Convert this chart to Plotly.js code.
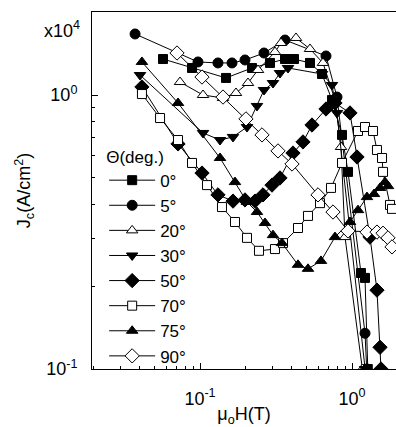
<!DOCTYPE html>
<html>
<head>
<meta charset="utf-8">
<script src="https://cdn.plot.ly/plotly-3.0.1.min.js"></script>
<style>
  html, body { margin: 0; padding: 0; background: #fff; }
  #chart { width: 396px; height: 427px; }
</style>
</head>
<body>
<div id="chart"></div>
<script>
// Field mu0H (T) and Jc (x10^4 A/cm^2) for each angle Theta
const H_0 = [0.0571, 0.0886, 0.1483, 0.2198, 0.2887, 0.3624, 0.4153, 0.5292, 0.6347, 0.7386, 0.8596, 0.9412, 1.146, 1.218, 1.27];
const J_0 = [1.353, 1.255, 1.154, 1.255, 1.309, 1.353, 1.353, 1.309, 1.193, 0.959, 0.715, 0.524, 0.224, 0.215, 0.100];

const H_5 = [0.0374, 0.0970, 0.1313, 0.1624, 0.1977, 0.2637, 0.3624, 0.6744, 0.7967, 1.218, 1.25];
const J_5 = [1.670, 1.320, 1.309, 1.309, 1.342, 1.423, 1.587, 1.388, 0.983, 0.135, 0.100];

const H_20 = [0.0739, 0.1047, 0.1417, 0.1725, 0.2069, 0.2408, 0.3114, 0.3411, 0.4281, 0.5292, 0.6444, 0.7729, 0.8466, 0.8994, 1.17];
const J_20 = [1.115, 1.000, 0.975, 1.017, 1.106, 1.234, 1.435, 1.548, 1.615, 1.472, 1.309, 0.959, 0.646, 0.303, 0.100];

const H_30 = [0.0403, 0.1047, 0.1354, 0.1649, 0.2038, 0.2371, 0.2637, 0.3022, 0.3360, 0.3793, 0.6347, 0.7386, 0.7967, 1.22];
const J_30 = [1.183, 0.727, 0.685, 0.703, 0.764, 0.912, 1.043, 1.106, 1.203, 1.255, 1.193, 1.088, 0.860, 0.100];

const H_50 = [0.0415, 0.0717, 0.1031, 0.1313, 0.1649, 0.1977, 0.2300, 0.2597, 0.2976, 0.3360, 0.4091, 0.4760, 0.5456, 0.6744, 0.7729, 0.9701, 1.079, 1.313, 1.460, 1.529, 1.552];
const J_50 = [1.070, 0.663, 0.519, 0.432, 0.410, 0.414, 0.410, 0.432, 0.469, 0.498, 0.614, 0.674, 0.777, 0.889, 0.935, 0.860, 0.594, 0.303, 0.194, 0.120, 0.100];

const H_70 = [0.0415, 0.0546, 0.0717, 0.0886, 0.1112, 0.1395, 0.1699, 0.2038, 0.2444, 0.3114, 0.3516, 0.4413, 0.5134, 0.6158, 0.7275, 0.8596, 1.095, 1.218, 1.375, 1.460, 1.576, 1.600, 1.778, 1.833];
const J_70 = [1.008, 0.824, 0.685, 0.565, 0.469, 0.390, 0.344, 0.301, 0.270, 0.274, 0.288, 0.327, 0.362, 0.403, 0.458, 0.565, 0.739, 0.764, 0.739, 0.630, 0.589, 0.524, 0.397, 0.384];

const H_75 = [0.0415, 0.0717, 0.1354, 0.1699, 0.2038, 0.2371, 0.2677, 0.3022, 0.3463, 0.4413, 0.5134, 0.625, 0.7729, 0.9701, 1.095, 1.255, 1.396, 1.529, 1.649, 1.725];
const J_75 = [1.320, 0.935, 0.589, 0.481, 0.407, 0.374, 0.341, 0.308, 0.288, 0.240, 0.232, 0.248, 0.303, 0.344, 0.380, 0.424, 0.435, 0.458, 0.481, 0.465];

const H_90 = [0.0706, 0.1031, 0.1417, 0.2007, 0.2558, 0.3260, 0.4030, 0.5974, 0.7499, 0.9412, 1.255, 1.460, 1.600, 1.725, 1.833];
const J_90 = [1.423, 1.163, 0.983, 0.818, 0.715, 0.625, 0.560, 0.432, 0.374, 0.319, 0.316, 0.316, 0.313, 0.301, 0.279];

const seriesNames = ['0°', '5°', '20°', '30°', '50°', '70°', '75°', '90°'];
const xTickVals = [0.1, 1];
const xTickText = ['10<sup>-1</sup>', '10<sup>0</sup>'];
const yTickVals = [0.1, 1];
const yTickText = ['10<sup>-1</sup>', '10<sup>0</sup>'];
const xMinor = [0.02, 0.03, 0.04, 0.05, 0.06, 0.07, 0.08, 0.09, 0.2, 0.3, 0.4, 0.5, 0.6, 0.7, 0.8, 0.9, 2];
const yMinor = [0.2, 0.3, 0.4, 0.5, 0.6, 0.7, 0.8, 0.9, 2];

const FONT = '"Liberation Sans", Arial, Helvetica, sans-serif';

const xs = [H_0, H_5, H_20, H_30, H_50, H_70, H_75, H_90];
const ys = [J_0, J_5, J_20, J_30, J_50, J_70, J_75, J_90];
const symbols = ['square', 'circle', 'triangle-up', 'triangle-down', 'diamond', 'square', 'triangle-up', 'diamond'];
const fills = ['black', 'black', 'white', 'black', 'black', 'white', 'black', 'white'];
const sizes = [9, 10, 10, 10, 11, 9, 10, 11];

const traces = xs.map((x, i) => ({
  type: 'scatter',
  mode: 'lines+markers',
  name: seriesNames[i],
  x: x,
  y: ys[i],
  line: { color: 'black', width: 1 },
  marker: { symbol: symbols[i], size: sizes[i], color: fills[i], line: { color: 'black', width: 1 } }
}));

const layout = {
  width: 396,
  height: 427,
  margin: { l: 92, r: 0, t: 12, b: 58 },
  paper_bgcolor: 'white',
  plot_bgcolor: 'white',
  font: { family: FONT, color: 'black', size: 17 },
  showlegend: true,
  legend: {
    x: 0.04, y: 0.64, xanchor: 'left', yanchor: 'top',
    bgcolor: 'rgba(0,0,0,0)',
    font: { family: FONT, size: 17, color: 'black' },
    title: { text: 'Θ(deg.)', font: { family: FONT, size: 17, color: 'black' } },
    itemwidth: 46,
    traceorder: 'normal'
  },
  xaxis: {
    type: 'log',
    range: [-1.7105, 0.2895],
    showline: true, linecolor: 'black', linewidth: 1, mirror: true,
    showgrid: false, zeroline: false,
    ticks: 'inside', ticklen: 6, tickcolor: 'black',
    tickmode: 'array', tickvals: xTickVals, ticktext: xTickText,
    tickfont: { family: FONT, size: 18, color: 'black' },
    ticklabelstandoff: 13,
    minor: { tickmode: 'array', tickvals: xMinor, ticks: 'inside', ticklen: 3, tickcolor: 'black', showgrid: false },
    title: { text: 'μ<sub>o</sub>H(T)', font: { family: FONT, size: 18, color: 'black' }, standoff: 2 }
  },
  yaxis: {
    type: 'log',
    range: [-1, 0.3029],
    showline: true, linecolor: 'black', linewidth: 1, mirror: false,
    showgrid: false, zeroline: false,
    ticks: 'inside', ticklen: 6, tickcolor: 'black',
    tickmode: 'array', tickvals: yTickVals, ticktext: yTickText,
    tickfont: { family: FONT, size: 18, color: 'black' },
    ticklabelstandoff: 10,
    minor: { tickmode: 'array', tickvals: yMinor, ticks: 'inside', ticklen: 3, tickcolor: 'black', showgrid: false },
    title: { text: 'J<sub>c</sub>(A/cm<sup>2</sup>)', font: { family: FONT, size: 18, color: 'black' }, standoff: 10 }
  },
  annotations: [{
    text: 'x10<sup>4</sup>', xref: 'paper', yref: 'paper',
    x: -0.164, y: 0.95, xanchor: 'left', yanchor: 'middle',
    showarrow: false, font: { family: FONT, size: 18, color: 'black' }
  }]
};

Plotly.newPlot('chart', traces, layout, { displayModeBar: false, staticPlot: true });
</script>
</body>
</html>
